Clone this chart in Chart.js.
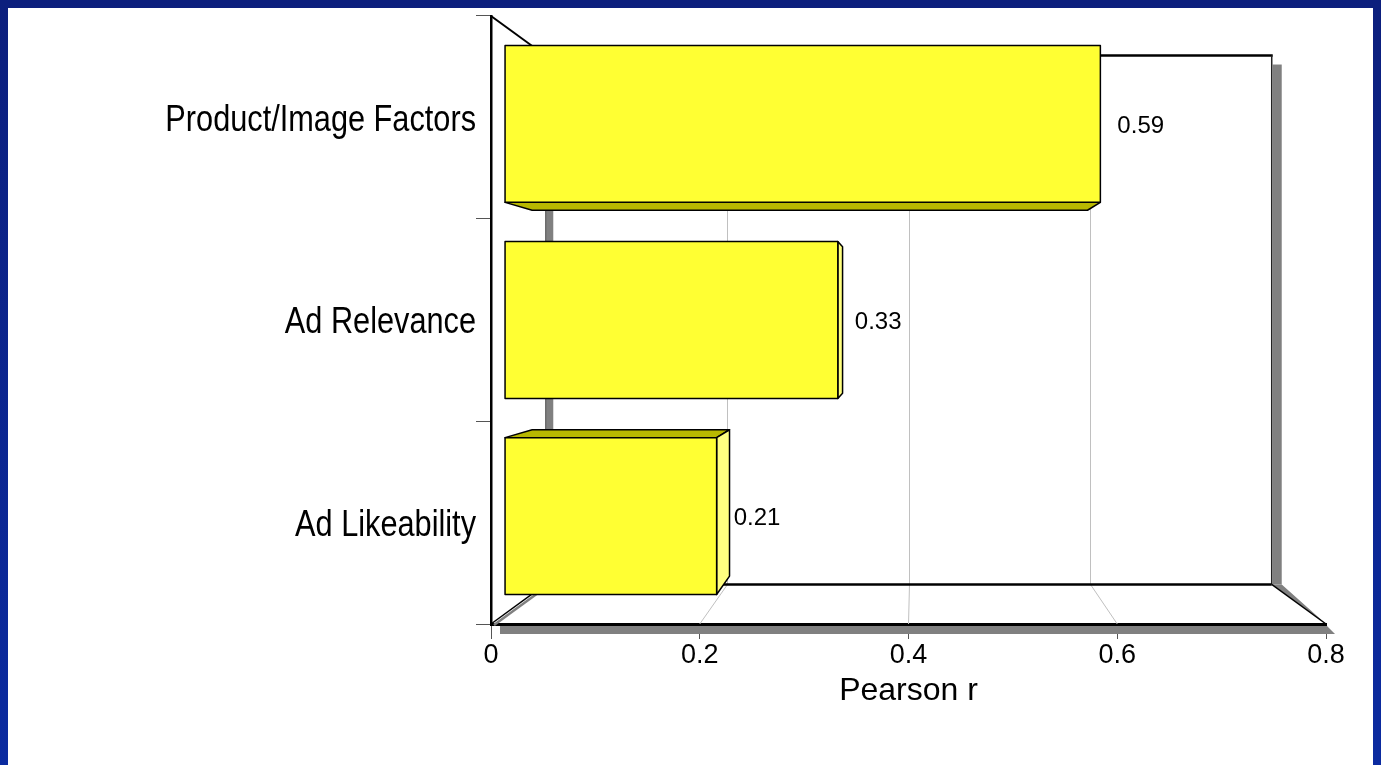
<!DOCTYPE html>
<html>
<head>
<meta charset="utf-8">
<title>Pearson r by factor</title>
<style>
  html, body { margin: 0; padding: 0; background: #ffffff; overflow: hidden; }
  #wrap { position: relative; width: 1381px; height: 765px; }
  canvas { display: block; }
</style>
<script src="https://cdn.jsdelivr.net/npm/chart.js@4.4.1/dist/chart.umd.min.js"></script>
</head>
<body>
<div id="wrap"><canvas id="chart" width="1381" height="765"></canvas></div>
<script>
// ---- data ----
const categories = ['Product/Image Factors', 'Ad Relevance', 'Ad Likeability'];
const pearsonR = [0.59, 0.33, 0.21];
const xTickValues = [0, 0.2, 0.4, 0.6, 0.8];
const xTitle = 'Pearson r';

// ---- look ----
const FRAME_TOP = '#0c1f7d';
const FRAME_BOTTOM = '#0b2ba0';
const FACE_FRONT = '#ffff33';
const FACE_DARK = '#b8b800';
const FACE_LIGHT = '#ffff80';
const WALL_SHADOW = '#808080';
const GRID_GRAY = '#c0c0c0';
const DEPTH_SHRINK = 0.13;   // how much the back wall shrinks toward the centre
const BAR_FRONT_T = 0.25;    // bar depth range inside the box (0 = front, 1 = back wall)
const BAR_BACK_T = 0.75;
const CATEGORY_FONT = '37px "Liberation Sans", Arial, sans-serif';
const CATEGORY_SQUEEZE = 0.83; // narrow lettering for the category names

// perspective: points at depth t slide toward the centre of the plot area
function project(chart, x, y, t) {
  const a = chart.chartArea;
  const cx = (a.left + a.right) / 2;
  const cy = (a.top + a.bottom) / 2;
  const s = 1 - DEPTH_SHRINK * t;
  return [cx + (x - cx) * s, cy + (y - cy) * s];
}

function poly(ctx, pts, fill, stroke, lw) {
  ctx.beginPath();
  ctx.moveTo(pts[0][0], pts[0][1]);
  for (let i = 1; i < pts.length; i++) ctx.lineTo(pts[i][0], pts[i][1]);
  ctx.closePath();
  if (fill) { ctx.fillStyle = fill; ctx.fill(); }
  if (stroke) { ctx.strokeStyle = stroke; ctx.lineWidth = lw || 1; ctx.stroke(); }
}

function line(ctx, p, q, color, lw) {
  ctx.beginPath();
  ctx.moveTo(p[0], p[1]);
  ctx.lineTo(q[0], q[1]);
  ctx.strokeStyle = color;
  ctx.lineWidth = lw;
  ctx.stroke();
}

const framePlugin = {
  id: 'frame',
  beforeDraw(chart) {
    const { ctx, width, height } = chart;
    ctx.save();
    const g = ctx.createLinearGradient(0, 0, 0, height);
    g.addColorStop(0, FRAME_TOP);
    g.addColorStop(1, FRAME_BOTTOM);
    ctx.fillStyle = g;
    ctx.fillRect(0, 0, width, height);
    ctx.fillStyle = '#ffffff';
    ctx.fillRect(8, 8, width - 16, height - 8);
    ctx.restore();
  }
};

const boxPlugin = {
  id: 'box3d',
  beforeDatasetsDraw(chart) {
    const { ctx, chartArea: a } = chart;
    const xs = chart.scales.x;
    ctx.save();
    ctx.lineCap = 'butt';
    const bTL = project(chart, a.left, a.top, 1);
    const bTR = project(chart, a.right, a.top, 1);
    const bBR = project(chart, a.right, a.bottom, 1);
    const bBL = project(chart, a.left, a.bottom, 1);

    // shadows
    ctx.fillStyle = WALL_SHADOW;
    ctx.fillRect(bTR[0] + 1, bTR[1] + 9, 9, bBR[1] - bTR[1] - 9);
    ctx.fillRect(bTL[0], bTL[1], 8, bBL[1] - bTL[1]);
    line(ctx, [bTL[0] + 0.5, bTL[1]], [bBL[0] + 0.5, bBL[1]], '#5a5a5a', 1);
    poly(ctx, [[a.left + 9, a.bottom + 2], [a.right + 1, a.bottom + 2], [a.right + 9, a.bottom + 10], [a.left + 9, a.bottom + 10]], WALL_SHADOW);
    // floor edge shadows
    line(ctx, [a.left + 3, a.bottom + 1], [bBL[0] + 3, bBL[1] + 1], WALL_SHADOW, 2.5);
    poly(ctx, [[bBR[0] + 1, bBR[1]], [bBR[0] + 10, bBR[1]], [a.right + 9, a.bottom + 8], [a.right, a.bottom]], WALL_SHADOW);

    // grid lines on the back wall and floor
    for (const v of xTickValues) {
      if (v === xs.min || v === xs.max) continue;
      const px = xs.getPixelForValue(v);
      const top = project(chart, px, a.top, 1);
      const bot = project(chart, px, a.bottom, 1);
      line(ctx, [Math.round(top[0]) + 0.5, top[1]], [Math.round(bot[0]) + 0.5, bot[1]], GRID_GRAY, 1);
      line(ctx, [Math.round(bot[0]) + 0.5, bot[1]], [px, a.bottom], GRID_GRAY, 1);
    }

    // back wall outline
    line(ctx, [bTL[0], bTL[1]], [bTR[0] + 1, bTR[1]], '#000', 2.5);
    line(ctx, [bTR[0], bTR[1]], [bBR[0], bBR[1]], '#222', 1.5);
    line(ctx, [bBL[0], bBL[1]], [bBR[0], bBR[1]], '#000', 2.5);

    // receding edges
    line(ctx, [a.left, a.top], bTL, '#000', 2);
    line(ctx, [a.left, a.bottom], bBL, '#000', 1.5);
    line(ctx, [a.right, a.bottom], bBR, '#000', 1.5);
    ctx.restore();
  },
  afterDatasetsDraw(chart) {
    const { ctx, chartArea: a } = chart;
    const cx = (a.left + a.right) / 2;
    const cy = (a.top + a.bottom) / 2;
    const meta = chart.getDatasetMeta(0);
    ctx.save();
    ctx.lineJoin = 'round';
    meta.data.forEach((bar, i) => {
      const p = bar.getProps(['x', 'y', 'base', 'height'], true);
      const x0 = Math.min(p.base, p.x), x1 = Math.max(p.base, p.x);
      const y0 = p.y - p.height / 2, y1 = p.y + p.height / 2;
      const F = (x, y) => project(chart, x, y, BAR_FRONT_T);
      const B = (x, y) => project(chart, x, y, BAR_BACK_T);
      if (y1 < cy) poly(ctx, [F(x0, y1), F(x1, y1), B(x1, y1), B(x0, y1)], FACE_DARK, '#000', 1.5);
      if (y0 > cy) poly(ctx, [F(x0, y0), F(x1, y0), B(x1, y0), B(x0, y0)], FACE_DARK, '#000', 1.5);
      if (x1 < cx) poly(ctx, [F(x1, y0), B(x1, y0), B(x1, y1), F(x1, y1)], FACE_LIGHT, '#000', 1.5);
      poly(ctx, [F(x0, y0), F(x1, y0), F(x1, y1), F(x0, y1)], FACE_FRONT, '#000', 1.5);

      // value label beside the bar
      const lp = F(x1, p.y);
      ctx.fillStyle = '#000';
      ctx.font = '24px "Liberation Sans", Arial, sans-serif';
      ctx.textAlign = 'left';
      ctx.textBaseline = 'middle';
      ctx.fillText(pearsonR[i].toFixed(2), lp[0] + 17, lp[1] + 2);
    });
    ctx.restore();
  },
  afterDraw(chart) {
    // category names in narrow lettering, placed at the y scale's tick positions
    const { ctx } = chart;
    const ys = chart.scales.y;
    const right = ys.right - ys.options.grid.tickLength;
    ctx.save();
    ctx.font = CATEGORY_FONT;
    ctx.fillStyle = '#000';
    ctx.textAlign = 'right';
    ctx.textBaseline = 'middle';
    ys.ticks.forEach((tk, i) => {
      const y = ys.getPixelForTick(i);
      ctx.save();
      ctx.translate(right, y + 3);
      ctx.scale(CATEGORY_SQUEEZE, 1);
      ctx.fillText(ys.getLabelForValue(tk.value), 0, 0);
      ctx.restore();
    });
    ctx.restore();
  }
};

Chart.defaults.font.family = '"Liberation Sans", Arial, sans-serif';
Chart.defaults.color = '#000';

new Chart(document.getElementById('chart'), {
  type: 'bar',
  data: {
    labels: categories,
    datasets: [{
      data: pearsonR,
      backgroundColor: 'rgba(0,0,0,0)',
      borderWidth: 0,
      categoryPercentage: 0.8,
      barPercentage: 1.0
    }]
  },
  options: {
    indexAxis: 'y',
    responsive: false,
    animation: false,
    devicePixelRatio: 1,
    layout: { padding: { top: 16, right: 55, left: 0, bottom: 0 } },
    plugins: { legend: { display: false }, tooltip: { enabled: false } },
    scales: {
      x: {
        type: 'linear',
        min: 0,
        max: 0.8,
        afterBuildTicks(scale) { scale.ticks = xTickValues.map(v => ({ value: v })); },
        afterFit(scale) { scale.height = 141; },
        ticks: {
          font: { size: 27 },
          padding: 0,
          callback: v => String(v)
        },
        grid: { drawOnChartArea: false, drawTicks: true, tickLength: 15, color: '#555', lineWidth: 1 },
        border: { display: true, color: '#000', width: 3 },
        title: {
          display: true,
          text: xTitle,
          font: { size: 32 },
          padding: { top: 0, bottom: 55 }
        }
      },
      y: {
        type: 'category',
        afterFit(scale) { scale.width = 491; },
        ticks: { display: false },
        grid: { drawOnChartArea: false, drawTicks: true, tickLength: 15, offset: true, color: '#555', lineWidth: 1 },
        border: { display: true, color: '#000', width: 2.5 }
      }
    }
  },
  plugins: [framePlugin, boxPlugin]
});
</script>
</body>
</html>
